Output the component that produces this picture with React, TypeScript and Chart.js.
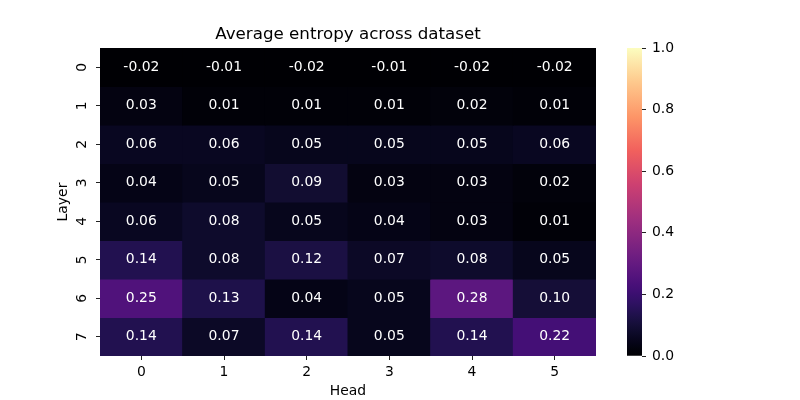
import React, { useEffect, useRef } from "react";
import { Chart, registerables } from "chart.js";

Chart.register(...registerables);

// ---- data ----
const heads = ["0", "1", "2", "3", "4", "5"];
const layers = ["0", "1", "2", "3", "4", "5", "6", "7"];
const layer0 = [-0.02, -0.01, -0.02, -0.01, -0.02, -0.02];
const layer1 = [0.03, 0.01, 0.01, 0.01, 0.02, 0.01];
const layer2 = [0.06, 0.06, 0.05, 0.05, 0.05, 0.06];
const layer3 = [0.04, 0.05, 0.09, 0.03, 0.03, 0.02];
const layer4 = [0.06, 0.08, 0.05, 0.04, 0.03, 0.01];
const layer5 = [0.14, 0.08, 0.12, 0.07, 0.08, 0.05];
const layer6 = [0.25, 0.13, 0.04, 0.05, 0.28, 0.1];
const layer7 = [0.14, 0.07, 0.14, 0.05, 0.14, 0.22];
const entropy = [layer0, layer1, layer2, layer3, layer4, layer5, layer6, layer7];
const colorbarTicks = [0, 0.2, 0.4, 0.6, 0.8, 1.0];
const titleText = "Average entropy across dataset";
const xTitle = "Head";
const yTitle = "Layer";
const vmin = 0;
const vmax = 1;

// ---- magma colormap ----
const magmaStops: [number, string][] = [
  [0 / 255, "000004"],
  [5 / 255, "02020b"],
  [10 / 255, "050416"],
  [15 / 255, "090720"],
  [20 / 255, "0e0b2b"],
  [25 / 255, "140e36"],
  [30 / 255, "1a1042"],
  [35 / 255, "21114e"],
  [40 / 255, "29115a"],
  [45 / 255, "311165"],
  [50 / 255, "390f6e"],
  [55 / 255, "420f75"],
  [60 / 255, "4a1079"],
  [65 / 255, "52137c"],
  [70 / 255, "5a167e"],
  [75 / 255, "621980"],
  [85 / 255, "721f81"],
  [113 / 255, "9f2f7f"],
  [142 / 255, "cd4071"],
  [170 / 255, "f1605d"],
  [198 / 255, "fd9567"],
  [227 / 255, "fec98d"],
  [255 / 255, "fcfdbf"],
];

function hexToRgb(h: string): number[] {
  return [parseInt(h.slice(0, 2), 16), parseInt(h.slice(2, 4), 16), parseInt(h.slice(4, 6), 16)];
}

function magma(v: number): string {
  let t = (v - vmin) / (vmax - vmin);
  t = Math.max(0, Math.min(1, t));
  for (let i = 0; i < magmaStops.length - 1; i++) {
    const [t0, c0] = magmaStops[i];
    const [t1, c1] = magmaStops[i + 1];
    if (t >= t0 && t <= t1) {
      const f = t1 === t0 ? 0 : (t - t0) / (t1 - t0);
      const a = hexToRgb(c0);
      const b = hexToRgb(c1);
      const r = a.map((x, k) => Math.round(x + (b[k] - x) * f));
      return `rgb(${r[0]},${r[1]},${r[2]})`;
    }
  }
  return "#" + magmaStops[magmaStops.length - 1][1];
}

const FONT = "'DejaVu Sans', sans-serif";

const annotationPlugin = {
  id: "cellAnnotations",
  afterDatasetsDraw(chart: any) {
    const ctx = chart.ctx;
    ctx.save();
    ctx.fillStyle = "#ffffff";
    ctx.font = `13.9px ${FONT}`;
    ctx.textAlign = "center";
    ctx.textBaseline = "middle";
    chart.data.datasets.forEach((_: any, i: number) => {
      const meta = chart.getDatasetMeta(i);
      meta.data.forEach((bar: any, j: number) => {
        const p = bar.getProps(["x", "y", "base"], true);
        ctx.fillText(entropy[i][j].toFixed(2), p.x, (p.y + p.base) / 2);
      });
    });
    ctx.restore();
  },
};

export default function App() {
  const heatRef = useRef<HTMLCanvasElement | null>(null);
  const barRef = useRef<HTMLCanvasElement | null>(null);

  useEffect(() => {
    Chart.defaults.font.family = FONT;
    Chart.defaults.color = "#000";

    const heat = new Chart(heatRef.current as HTMLCanvasElement, {
      type: "bar",
      data: {
        labels: heads,
        datasets: entropy.map((row, l) => ({
          label: layers[l],
          data: row.map(() => [l, l + 1]),
          backgroundColor: row.map((v) => magma(v)),
          borderWidth: 0,
          inflateAmount: 0.5,
          barPercentage: 1,
          categoryPercentage: 1,
          grouped: false,
        })) as any,
      },
      options: {
        responsive: false,
        maintainAspectRatio: false,
        animation: false,
        layout: { padding: { left: 0, right: 204, top: 0, bottom: 0 } },
        plugins: {
          legend: { display: false },
          tooltip: { enabled: false },
          title: {
            display: true,
            fullSize: false,
            text: titleText,
            color: "#000",
            font: { size: 16.7, weight: "normal", family: FONT },
            padding: { top: 25, bottom: 3 },
          },
        },
        scales: {
          x: {
            type: "category",
            offset: true,
            grid: {
              display: true,
              drawOnChartArea: false,
              drawTicks: true,
              tickLength: 4,
              offset: false,
              color: "#222",
              tickColor: "#222",
            },
            border: { display: false },
            ticks: { font: { size: 13.9 }, padding: 4, color: "#000", maxRotation: 0, minRotation: 0 },
            title: {
              display: true,
              text: xTitle,
              font: { size: 13.9 },
              color: "#000",
              padding: { top: 0, bottom: 0 },
            },
            afterFit: (s: any) => {
              s.height = 44;
            },
          },
          y: {
            type: "linear",
            min: 0,
            max: 8,
            reverse: true,
            afterBuildTicks: (s: any) => {
              s.ticks = layers.map((_, i) => ({ value: i + 0.5 }));
            },
            grid: {
              display: true,
              drawOnChartArea: false,
              drawTicks: true,
              tickLength: 4,
              color: "#222",
              tickColor: "#222",
            },
            border: { display: false },
            ticks: {
              font: { size: 13.9 },
              padding: 9,
              color: "#000",
              minRotation: 90,
              maxRotation: 90,
              crossAlign: "center",
              callback: (v: any) => layers[Math.floor(Number(v))],
            },
            title: {
              display: true,
              text: yTitle,
              font: { size: 13.9 },
              color: "#000",
              padding: { top: 54.7, bottom: 0 },
            },
            afterFit: (s: any) => {
              s.width = 100;
            },
          },
        },
      } as any,
      plugins: [annotationPlugin],
    });

    const cbar = new Chart(barRef.current as HTMLCanvasElement, {
      type: "bar",
      data: {
        labels: [""],
        datasets: [
          {
            data: [[vmin, vmax]],
            borderWidth: 0,
            barPercentage: 1,
            categoryPercentage: 1,
            backgroundColor: (c: any) => {
              const chart = c.chart;
              const sy = chart.scales && chart.scales.y;
              if (!chart.chartArea || !sy) return "#000004";
              const y0 = sy.getPixelForValue(vmin);
              const y1 = sy.getPixelForValue(vmax);
              const g = chart.ctx.createLinearGradient(0, y0, 0, y1);
              magmaStops.forEach(([t, h]) => g.addColorStop(t, "#" + h));
              return g;
            },
          },
        ] as any,
      },
      options: {
        responsive: false,
        maintainAspectRatio: false,
        animation: false,
        layout: { padding: { left: 27, right: 118, top: 48, bottom: 44 } },
        plugins: { legend: { display: false }, tooltip: { enabled: false }, title: { display: false } },
        scales: {
          x: { display: false, offset: true },
          y: {
            type: "linear",
            position: "right",
            min: vmin,
            max: vmax,
            afterBuildTicks: (s: any) => {
              s.ticks = colorbarTicks.map((v) => ({ value: v }));
            },
            grid: {
              display: true,
              drawOnChartArea: false,
              drawTicks: true,
              tickLength: 4,
              color: "#222",
              tickColor: "#222",
            },
            border: { display: false },
            ticks: {
              font: { size: 13.9 },
              padding: 6,
              color: "#000",
              callback: (v: any) => Number(v).toFixed(1),
            },
            afterFit: (s: any) => {
              s.width = 40;
            },
          },
        },
      } as any,
    });

    return () => {
      heat.destroy();
      cbar.destroy();
    };
  }, []);

  return (
    <div style={{ position: "absolute", left: 0, top: 0, width: 800, height: 400, background: "#fff" }}>
      <canvas
        ref={heatRef}
        width={800}
        height={400}
        style={{ position: "absolute", left: 0, top: 0, width: 800, height: 400 }}
      />
      <canvas
        ref={barRef}
        width={200}
        height={400}
        style={{ position: "absolute", left: 600, top: 0, width: 200, height: 400 }}
      />
    </div>
  );
}
